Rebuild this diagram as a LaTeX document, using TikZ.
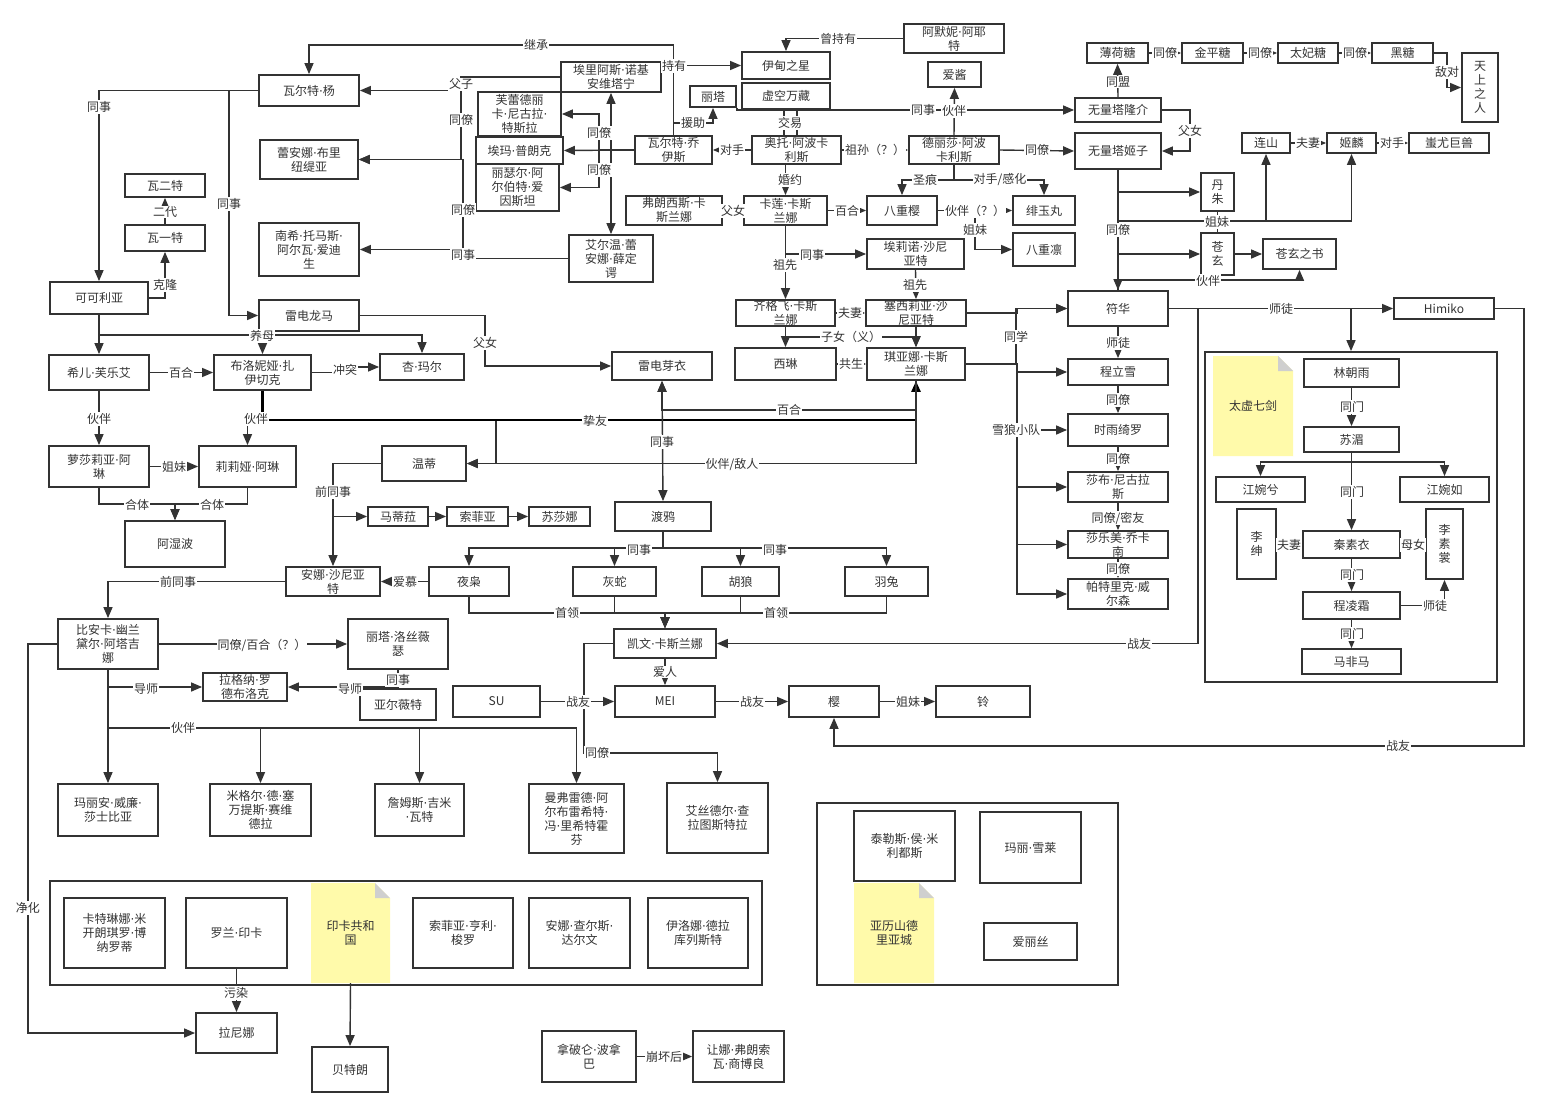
\documentclass[tikz,border=0pt]{standalone}
\usepackage{fontspec}
\setmainfont{Noto Sans CJK SC}
\newfontfamily\dotf{DejaVu Sans}
\usetikzlibrary{arrows.meta}
\definecolor{ln}{HTML}{333333}
\definecolor{tx}{HTML}{333333}
\definecolor{notey}{HTML}{FFFAAA}
\definecolor{notec}{HTML}{CFCFCF}
\newcommand\fs{\fontsize{12}{14}\selectfont}
\newcommand\bx[6]{\node[bxs, minimum width={(#4)-(#2)}, minimum height={(#5)-(#3)}] (#1) at ({((#2)+(#4))/2},{((#3)+(#5))/2}) {#6};}
\newcommand\notebox[6]{%
  \fill[notey] (#2,#3) -- ({(#4)-15},#3) -- (#4,{(#3)+15}) -- (#4,#5) -- (#2,#5) -- cycle;
  \fill[notec] ({(#4)-15},#3) -- (#4,{(#3)+15}) -- ({(#4)-15},{(#3)+15}) -- cycle;
  \node[inner sep=0pt, align=center, font=\fs, text=tx, minimum width={(#4)-(#2)}, minimum height={(#5)-(#3)}] (#1) at ({((#2)+(#4))/2},{((#3)+(#5))/2}) {#6};}
\newcommand\lab[4]{\node[lbl] (#1) at (#2,#3) {#4};}
\catcode`·=\active
\def·{{\dotf\char"00B7}}
\begin{document}
\begin{tikzpicture}[x=1pt,y=-1pt,
  bxs/.style={draw=ln, line width=1.8pt, fill=white, inner sep=0pt, align=center, font=\fs, text=tx},
  conn/.style={draw=ln, line width=1.4pt},
  arr/.style={conn, -{Triangle[length=11pt,width=9pt]}},
  darr/.style={conn, {Triangle[length=11pt,width=9pt]}-{Triangle[length=11pt,width=9pt]}},
  thk/.style={draw=black, line width=2.6pt, -{Triangle[length=11pt,width=9pt]}},
  lbl/.style={fill=white, inner sep=1pt, font=\fs, text=tx}]
\useasboundingbox (0,0) rectangle (1549,1117);
% ---------- groups ----------
\bx{taixu}{1205}{352}{1497}{682}{}
\bx{incag}{50}{881}{762}{985}{}
\bx{alexg}{817}{803}{1118}{985}{}
% ---------- nodes ----------
\bx{wyang}{259}{75}{359}{106}{瓦尔特·杨}
\bx{rana}{260}{140}{358}{179}{蕾安娜·布里\\纽缇亚}
\bx{wa2}{125}{174}{205}{197}{瓦二特}
\bx{wa1}{125}{225}{205}{251}{瓦一特}
\bx{nancy}{259}{223}{359}{276}{南希·托马斯·\\阿尔瓦·爱迪\\生}
\bx{coco}{50}{282}{148}{314}{可可利亚}
\bx{ryoma}{259}{300}{359}{331}{雷电龙马}
\bx{elias}{561}{62}{661}{92}{埃里阿斯·诺基\\安维塔宁}
\bx{tesla}{478}{92}{561}{136}{芙蕾德丽\\卡·尼古拉·\\特斯拉}
\bx{planck}{476}{137}{563}{164}{埃玛·普朗克}
\bx{einstein}{476}{164}{559}{211}{丽瑟尔·阿\\尔伯特·爱\\因斯坦}
\bx{schro}{569}{235}{653}{282}{艾尔温·蕾\\安娜·薛定\\谔}
\bx{rita}{690}{86}{736}{107}{丽塔}
\bx{joyce}{635}{136}{712}{164}{瓦尔特·乔\\伊斯}
\bx{frances}{626}{196}{722}{225}{弗朗西斯·卡\\斯兰娜}
\bx{eden}{742}{52}{830}{79}{伊甸之星}
\bx{void}{742}{83}{830}{109}{虚空万藏}
\bx{ame}{904}{24}{1004}{53}{阿默妮·阿耶\\特}
\bx{aijiang}{928}{62}{981}{87}{爱酱}
\bx{mint}{1087}{43}{1148}{63}{薄荷糖}
\bx{ryusuke}{1075}{98}{1161}{122}{无量塔隆介}
\bx{himeko}{1075}{133}{1161}{169}{无量塔姬子}
\bx{otto}{752}{136}{841}{164}{奥托·阿波卡\\利斯}
\bx{theresa}{909}{136}{999}{164}{德丽莎·阿波\\卡利斯}
\bx{kallen}{744}{196}{827}{225}{卡莲·卡斯\\兰娜}
\bx{sakura8}{867}{196}{937}{225}{八重樱}
\bx{hiyo}{1013}{196}{1075}{225}{绯玉丸}
\bx{rin8}{1013}{233}{1075}{266}{八重凛}
\bx{eleanor}{867}{239}{964}{269}{埃莉诺·沙尼\\亚特}
\bx{cecilia}{866}{300}{966}{326}{塞西莉亚·沙\\尼亚特}
\bx{siegfried}{736}{300}{835}{326}{齐格飞·卡斯\\兰娜}
\bx{fuhua}{1068}{291}{1168}{326}{符华}
\bx{konpei}{1182}{43}{1243}{63}{金平糖}
\bx{toffee}{1278}{43}{1338}{63}{太妃糖}
\bx{kokuto}{1372}{43}{1433}{63}{黑糖}
\bx{tenjo}{1462}{53}{1498}{122}{天\\上\\之\\人}
\bx{lianshan}{1242}{133}{1290}{153}{连山}
\bx{jilin}{1327}{133}{1376}{153}{姬麟}
\bx{chiyou}{1409}{133}{1489}{153}{蚩尤巨兽}
\bx{danzhu}{1201}{173}{1234}{211}{丹\\朱}
\bx{cangxuan}{1201}{233}{1234}{275}{苍\\玄}
\bx{cxbook}{1263}{239}{1336}{269}{苍玄之书}
\bx{himiko}{1394}{298}{1494}{319}{Himiko}
\bx{seele}{49}{355}{149}{390}{希儿·芙乐艾}
\bx{bronya}{214}{355}{311}{390}{布洛妮娅·扎\\伊切克}
\bx{anmar}{380}{354}{464}{380}{杏·玛尔}
\bx{rozalia}{49}{446}{149}{487}{萝莎莉亚·阿\\琳}
\bx{liliya}{199}{446}{296}{487}{莉莉娅·阿琳}
\bx{ashiva}{125}{521}{225}{567}{阿湿波}
\bx{wendy}{382}{446}{466}{481}{温蒂}
\bx{matilda}{368}{507}{428}{526}{马蒂菈}
\bx{sophia}{447}{507}{508}{526}{索菲亚}
\bx{susanna}{529}{507}{590}{526}{苏莎娜}
\bx{anna}{286}{567}{380}{596}{安娜·沙尼亚\\特}
\bx{meir}{612}{352}{712}{380}{雷电芽衣}
\bx{sirin}{735}{348}{836}{380}{西琳}
\bx{kiana}{867}{348}{965}{380}{琪亚娜·卡斯\\兰娜}
\bx{raven}{615}{502}{711}{531}{渡鸦}
\bx{owl}{429}{567}{509}{596}{夜枭}
\bx{snake}{573}{567}{656}{596}{灰蛇}
\bx{jackal}{702}{567}{779}{596}{胡狼}
\bx{rabbit}{845}{567}{928}{596}{羽兔}
\bx{kevin}{614}{629}{716}{658}{凯文·卡斯兰娜}
\bx{su}{453}{686}{540}{717}{SU}
\bx{mei}{615}{686}{715}{717}{MEI}
\bx{sakura}{789}{686}{879}{717}{樱}
\bx{ling}{936}{686}{1030}{717}{铃}
\bx{bianka}{58}{619}{158}{669}{比安卡·幽兰\\黛尔·阿塔吉\\娜}
\bx{ritar}{348}{619}{448}{669}{丽塔·洛丝薇\\瑟}
\bx{ragna}{203}{673}{287}{701}{拉格纳·罗\\德布洛克}
\bx{aalt}{360}{689}{436}{720}{亚尔薇特}
\bx{shakes}{58}{784}{158}{836}{玛丽安·威廉·\\莎士比亚}
\bx{cervantes}{210}{784}{311}{836}{米格尔·德·塞\\万提斯·赛维\\德拉}
\bx{watt}{375}{784}{464}{836}{詹姆斯·吉米\\·瓦特}
\bx{richt}{529}{784}{624}{853}{曼弗雷德·阿\\尔布雷希特·\\冯·里希特霍\\芬}
\bx{zara}{667}{783}{768}{853}{艾丝德尔·查\\拉图斯特拉}
\bx{michel}{64}{898}{165}{968}{卡特琳娜·米\\开朗琪罗·博\\纳罗蒂}
\bx{roland}{186}{898}{287}{968}{罗兰·印卡}
\notebox{incanote}{311}{883}{390}{983}{印卡共和\\国}
\bx{thoreau}{413}{898}{513}{968}{索菲亚·亨利·\\梭罗}
\bx{darwin}{529}{898}{630}{968}{安娜·查尔斯·\\达尔文}
\bx{ilona}{648}{898}{748}{968}{伊洛娜·德拉\\库列斯特}
\bx{ranina}{196}{1013}{277}{1053}{拉尼娜}
\bx{bertrand}{312}{1047}{388}{1092}{贝特朗}
\bx{napoleon}{542}{1031}{636}{1082}{拿破仑·波拿\\巴}
\bx{jeanne}{693}{1031}{784}{1082}{让娜·弗朗索\\瓦·商博良}
\bx{thales}{854}{811}{955}{881}{泰勒斯·侯·米\\利都斯}
\bx{shelley}{980}{812}{1081}{883}{玛丽·雪莱}
\notebox{alexnote}{854}{883}{934}{983}{亚历山德\\里亚城}
\bx{alice}{984}{923}{1077}{960}{爱丽丝}
\bx{chenglx}{1068}{359}{1168}{385}{程立雪}
\bx{kira}{1068}{414}{1168}{446}{时雨绮罗}
\bx{niggu}{1068}{472}{1168}{502}{莎布·尼古拉\\斯}
\bx{salome}{1068}{531}{1168}{558}{莎乐美·乔卡\\南}
\bx{patrick}{1068}{579}{1168}{609}{帕特里克·威\\尔森}
\notebox{taixunote}{1213}{356}{1293}{456}{太虚七剑}
\bx{linzy}{1304}{359}{1399}{387}{林朝雨}
\bx{sumei}{1304}{427}{1399}{452}{苏湄}
\bx{jwx}{1216}{477}{1305}{502}{江婉兮}
\bx{jwr}{1400}{477}{1489}{502}{江婉如}
\bx{lishen}{1237}{509}{1276}{579}{李\\绅}
\bx{qinsy}{1303}{531}{1400}{558}{秦素衣}
\bx{lisc}{1426}{509}{1463}{579}{李\\素\\裳}
\bx{chengls}{1303}{592}{1400}{619}{程凌霜}
\bx{mafm}{1302}{649}{1401}{674}{马非马}
% ---------- edges ----------
\draw[arr] (joyce.north) |- (309,45) -- (wyang.north);
\draw[arr] (elias.east |- eden.west) -- (eden.west);
\draw[arr] (joyce.north) |- (713,123) -- (rita.south);
\draw[arr] (ame.west) -| (eden.north);
\draw[arr] (elias.west) -| (461,90.5) -- (wyang.east);
\draw[arr] (elias.west) -| (461,159.5) -- (rana.east);
\draw[arr] (einstein.west |- 0,209) -- (463,209) |- (rana.east);
\draw[conn] (463,209) -- (463,249.5);
\draw[arr] (schro.west) -- (463,258.5) -- (463,249.5) -- (nancy.east);
\draw[darr] (elias.south) -- (schro.north);
\draw[arr] (joyce.west) -- (planck.east);
\draw[arr] (joyce.west) -| (599,114) -- (tesla.east);
\draw[arr] (joyce.west) -| (599,187.5) -- (einstein.east);
\draw[arr] (otto.west) -- (joyce.east);
\draw[conn] (void.south -| 784,0) -- (otto.north -| 784,0);
\draw[conn] (void.south -| 797,0) -- (otto.north -| 797,0);
\draw[arr] (rita.south east) |- (ryusuke.west);
\draw[arr] (theresa.north) -- (aijiang.south);
\draw[arr] (otto.east) -- (theresa.west);
\draw[arr] (theresa.east) -- (himeko.west);
\draw[arr] (theresa.south) |- (902,180) -- (sakura8.north);
\draw[arr] (theresa.south) |- (1044,180) -- (hiyo.north);
\draw[arr] (785.5,0 |- otto.south) -- (kallen.north);
\draw[arr] (frances.east) -- (kallen.west);
\draw[arr] (kallen.east) -- (sakura8.west);
\draw[arr] (sakura8.east) -- (hiyo.west);
\draw[arr] (sakura8.east) -| (975,249.5) -- (rin8.west);
\draw[arr] (kallen.south) |- (eleanor.west);
\draw[arr] (kallen.south) -- (siegfried.north);
\draw[arr] (eleanor.south) -- (cecilia.north);
\draw[arr] (siegfried.east) -- (cecilia.west);
\draw[arr] (siegfried.south) -- (sirin.north);
\draw[arr] (cecilia.south) -- (kiana.north);
\draw[arr] (siegfried.south) |- (916,337) -- (kiana.north);
\draw[arr] (sirin.east) -- (kiana.west);
\draw[arr] (cecilia.east) -| (1017,308.5) -- (fuhua.west);
\draw[arr] (kiana.east) -| (1016,308.5) -- (fuhua.west);
\draw[arr] (kiana.east) -| (1017,372) -- (chenglx.west);
\draw[arr] (kiana.east) -| (1017,430) -- (kira.west);
\draw[arr] (kiana.east) -| (1017,487) -- (niggu.west);
\draw[arr] (kiana.east) -| (1017,544.5) -- (salome.west);
\draw[arr] (kiana.east) -| (1017,594) -- (patrick.west);
\draw[arr] (fuhua.south) -- (chenglx.north);
\draw[arr] (chenglx.south) -- (kira.north);
\draw[arr] (kira.south) -- (niggu.north);
\draw[arr] (niggu.south) -- (salome.north);
\draw[arr] (salome.south) -- (patrick.north);
\draw[arr] (fuhua.east) -- (himiko.west);
\draw[arr] (fuhua.east) -| (taixu.north);
\draw[arr] (fuhua.east) -| (1198,643.5) -- (kevin.east);
\draw[arr] (himiko.east) -| (1524,746) -| (sakura.south);
\draw[arr] (himeko.south) -- (fuhua.north);
\draw[arr] (fuhua.north) |- (danzhu.west);
\draw[arr] (fuhua.north) |- (1266,221) -- (lianshan.south);
\draw[arr] (fuhua.north) |- (1351.5,221) -- (jilin.south);
\draw[arr] (fuhua.north) |- (cangxuan.west);
\draw[arr] (fuhua.north) |- (1299.5,280) -- (cxbook.south);
\draw[conn] (danzhu.south) -- (cangxuan.north);
\draw[arr] (cangxuan.east) -- (cxbook.west);
\draw[arr] (ryusuke.east) -| (1190,151) -- (himeko.east);
\draw[arr] (ryusuke.north) -- (mint.south);
\draw[arr] (mint.east) -- (konpei.west);
\draw[arr] (konpei.east) -- (toffee.west);
\draw[arr] (toffee.east) -- (kokuto.west);
\draw[arr] (kokuto.east) -| (1447,87.5) -- (tenjo.west);
\draw[arr] (lianshan.east) -- (jilin.west);
\draw[arr] (jilin.east) -- (chiyou.west);
\draw[arr] (wyang.west) -| (coco.north);
\draw[arr] (wyang.west) -| (229,315.5) -- (ryoma.west);
\draw[arr] (coco.east) -| (wa1.south);
\draw[arr] (wa1.north) -- (wa2.south);
\draw[arr] (coco.south) -- (seele.north);
\draw[arr] (coco.south) |- (262.5,335) -- (bronya.north);
\draw[arr] (coco.south) |- (422,335) -- (anmar.north);
\draw[arr] (ryoma.east) -| (485,366) -- (meir.west);
\draw[arr] (seele.east) -- (bronya.west);
\draw[arr] (bronya.east) -| (345,367) -- (anmar.west);
\draw[arr] (seele.south) -- (rozalia.north);
\draw[arr] (bronya.south) |- (247.5,419) -- (liliya.north);
\draw[arr] (bronya.south) |- (496,420) |- (wendy.east);
\draw[thk] (bronya.south) |- (916,420) -- (kiana.south);
\draw[arr] (kiana.south) |- (wendy.east);
\draw[arr] (kiana.south) |- (662,410) -- (meir.south);
\draw[darr] (meir.south) -- (raven.north);
\draw[arr] (rozalia.east) -- (liliya.west);
\draw[arr] (rozalia.south) |- (175,504) -- (ashiva.north);
\draw[arr] (liliya.south) |- (175,504) -- (ashiva.north);
\draw[arr] (wendy.west) -| (anna.north);
\draw[arr] (wendy.west) -| (333,516.5) -- (matilda.west);
\draw[arr] (matilda.east) -- (sophia.west);
\draw[arr] (sophia.east) -- (susanna.west);
\draw[arr] (owl.west) -- (anna.east);
\draw[arr] (anna.west) -| (bianka.north);
\draw[arr] (raven.south) |- (469,548) -- (owl.north);
\draw[arr] (raven.south) |- (614.5,548) -- (snake.north);
\draw[arr] (raven.south) |- (740.5,548) -- (jackal.north);
\draw[arr] (raven.south) |- (886.5,548) -- (rabbit.north);
\draw[arr] (owl.south) |- (665,613) -- (kevin.north);
\draw[arr] (snake.south) |- (665,613) -- (kevin.north);
\draw[arr] (jackal.south) |- (665,613) -- (kevin.north);
\draw[arr] (rabbit.south) |- (665,613) -- (kevin.north);
\draw[arr] (kevin.south) -- (mei.north);
\draw[arr] (kevin.west) -| (584,753) -| (zara.north);
\draw[arr] (su.east) -- (mei.west);
\draw[arr] (mei.east) -- (sakura.west);
\draw[arr] (sakura.east) -- (ling.west);
\draw[arr] (bianka.east) -- (ritar.west);
\draw[arr] (bianka.south) |- (ragna.west);
\draw[arr] (ritar.south) |- (ragna.east);
\draw[arr] (ritar.south) -- (aalt.north);
\draw[arr] (bianka.south) -- (shakes.north);
\draw[arr] (bianka.south) |- (260.5,728) -- (cervantes.north);
\draw[arr] (bianka.south) |- (419.5,728) -- (watt.north);
\draw[arr] (bianka.south) |- (576.5,728) -- (richt.north);
\draw[arr] (bianka.west) -| (28,1033) -- (ranina.west);
\draw[arr] (roland.south) -- (ranina.north);
\draw[arr] (incanote.south) -- (bertrand.north);
\draw[arr] (napoleon.east) -- (jeanne.west);
\draw[arr] (linzy.south) -- (sumei.north);
\draw[arr] (sumei.south) |- (1260.5,462) -- (jwx.north);
\draw[arr] (sumei.south) |- (1444.5,462) -- (jwr.north);
\draw[arr] (sumei.south) -- (qinsy.north);
\draw[arr] (lishen.east) -- (qinsy.west);
\draw[arr] (qinsy.east) -- (lisc.west);
\draw[arr] (qinsy.south) -- (chengls.north);
\draw[arr] (chengls.east) -| (lisc.south);
\draw[arr] (chengls.south) -- (mafm.north);
% ---------- labels ----------
\lab{l1}{536}{45}{继承}
\lab{l2}{674}{66}{持有}
\lab{l3}{693}{123}{援助}
\lab{l4}{838}{39}{曾持有}
\lab{l5}{461}{84}{父子}
\lab{l6}{461}{120}{同僚}
\lab{l7}{463}{210}{同僚}
\lab{l8}{463}{255}{同事}
\lab{l9}{599}{133}{同僚}
\lab{l10}{599}{170}{同僚}
\lab{l11}{732}{150}{对手}
\lab{l12}{790}{123}{交易}
\lab{l13}{923}{110}{同事}
\lab{l14}{954}{111}{伙伴}
\lab{l15}{875}{150}{祖孙（？）}
\lab{l16}{1037}{150}{同僚}
\lab{l17}{925}{180}{圣痕}
\lab{l18}{1000}{180}{对手/感化}
\lab{l19}{790}{180}{婚约}
\lab{l20}{733}{211}{父女}
\lab{l21}{847}{211}{百合}
\lab{l22}{975}{211}{伙伴（？）}
\lab{l23}{975}{230}{姐妹}
\lab{l24}{812}{255}{同事}
\lab{l25}{785}{265}{祖先}
\lab{l26}{915}{285}{祖先}
\lab{l27}{850}{313}{夫妻}
\lab{l28}{851}{337}{子女（义）}
\lab{l29}{851}{364}{共生}
\lab{l30}{1016}{337}{同学}
\lab{l31}{1016}{430}{雪狼小队}
\lab{l32}{1118}{343}{师徒}
\lab{l33}{1118}{400}{同僚}
\lab{l34}{1118}{459}{同僚}
\lab{l35}{1118}{518}{同僚/密友}
\lab{l36}{1118}{569}{同僚}
\lab{l37}{1281}{309}{师徒}
\lab{l38}{1139}{644}{战友}
\lab{l39}{1398}{746}{战友}
\lab{l40}{1118}{230}{同僚}
\lab{l41}{1208}{281}{伙伴}
\lab{l42}{1217}{222}{姐妹}
\lab{l43}{1190}{131}{父女}
\lab{l44}{1118}{82}{同盟}
\lab{l45}{1165}{53}{同僚}
\lab{l46}{1260}{53}{同僚}
\lab{l47}{1355}{53}{同僚}
\lab{l48}{1447}{72}{敌对}
\lab{l49}{1308}{143}{夫妻}
\lab{l50}{1392}{143}{对手}
\lab{l51}{99}{107}{同事}
\lab{l52}{229}{204}{同事}
\lab{l53}{165}{285}{克隆}
\lab{l54}{165}{212}{二代}
\lab{l55}{262}{336}{养母}
\lab{l56}{485}{343}{父女}
\lab{l57}{181}{373}{百合}
\lab{l58}{345}{370}{冲突}
\lab{l59}{99}{419}{伙伴}
\lab{l60}{256}{419}{伙伴}
\lab{l61}{595}{421}{挚友}
\lab{l62}{732}{465}{伙伴/敌人}
\lab{l63}{789}{410}{百合}
\lab{l64}{662}{442}{同事}
\lab{l65}{174}{467}{姐妹}
\lab{l66}{137}{505}{合体}
\lab{l67}{212}{505}{合体}
\lab{l68}{333}{492}{前同事}
\lab{l69}{405}{582}{爱慕}
\lab{l70}{178}{582}{前同事}
\lab{l71}{639}{550}{同事}
\lab{l72}{775}{550}{同事}
\lab{l73}{567}{613}{首领}
\lab{l74}{776}{613}{首领}
\lab{l75}{665}{672}{爱人}
\lab{l76}{597}{753}{同僚}
\lab{l77}{578}{702}{战友}
\lab{l78}{752}{702}{战友}
\lab{l79}{908}{702}{姐妹}
\lab{l80}{262}{645}{同僚/百合（？）}
\lab{l81}{146}{689}{导师}
\lab{l82}{350}{689}{导师}
\lab{l83}{398}{680}{同事}
\lab{l84}{183}{728}{伙伴}
\lab{l85}{28}{908}{净化}
\lab{l86}{236}{993}{污染}
\lab{l87}{664}{1057}{崩坏后}
\lab{l88}{1352}{407}{同门}
\lab{l89}{1352}{492}{同门}
\lab{l90}{1352}{575}{同门}
\lab{l91}{1352}{634}{同门}
\lab{l92}{1289}{545}{夫妻}
\lab{l93}{1413}{545}{母女}
\lab{l94}{1435}{606}{师徒}
\end{tikzpicture}
\end{document}
